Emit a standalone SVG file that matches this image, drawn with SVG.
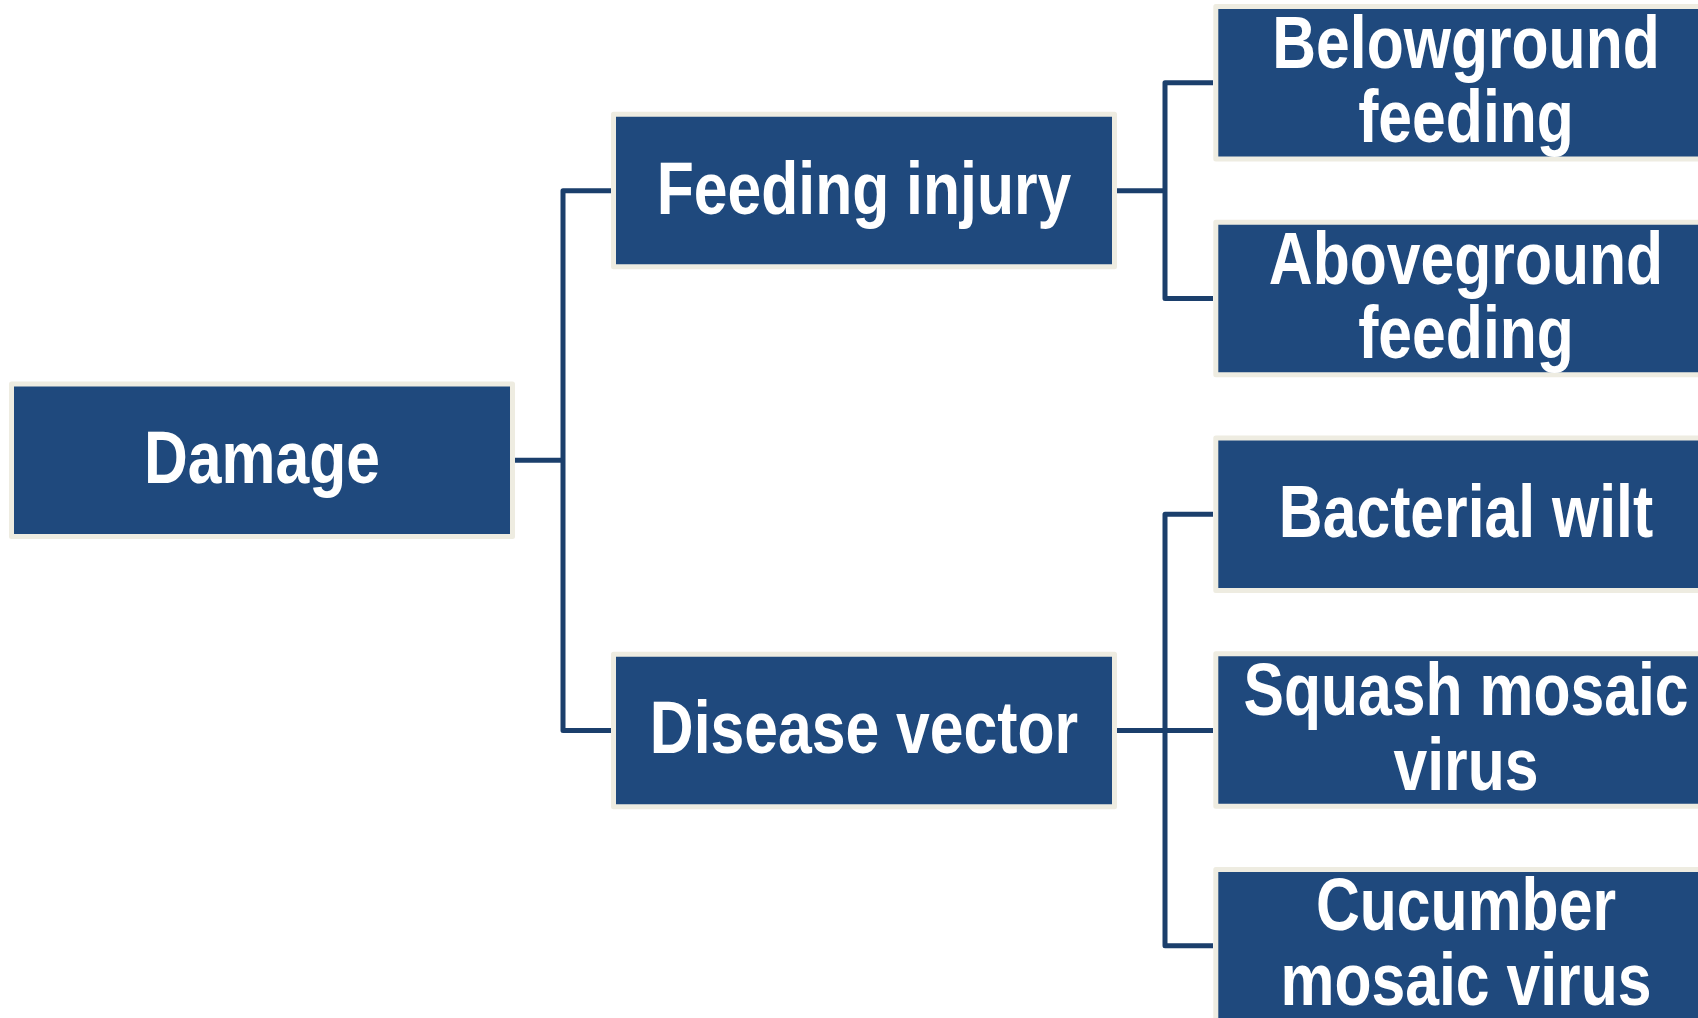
<svg xmlns="http://www.w3.org/2000/svg" width="1698" height="1018" viewBox="0 0 1698 1018">
  <style>
    .box { fill: #1F497D; stroke: #EEECE1; stroke-width: 5; stroke-linejoin: round; }
    .lbl { fill: #FFFFFF; font-family: "Liberation Sans", Arial, sans-serif; font-weight: bold; font-size: 74px; text-anchor: middle; }
    .conn { fill: none; stroke: #1B3F6C; stroke-width: 5; stroke-linejoin: round; stroke-linecap: butt; }
  </style>
  <rect x="0" y="0" width="1698" height="1018" fill="#FFFFFF"/>

  <g id="connectors">
    <path class="conn" d="M515,460.3 H563"/>
    <path class="conn" d="M611,190.8 H563 V730.5 H611"/>
    <path class="conn" d="M1117,190.8 H1165"/>
    <path class="conn" d="M1213,82.8 H1165 V298.5 H1213"/>
    <path class="conn" d="M1117,730.5 H1213"/>
    <path class="conn" d="M1213,514.3 H1165 V945.8 H1213"/>
  </g>

  <g id="node-damage">
    <rect class="box" x="11.5" y="384" width="501" height="152.5"/>
    <text class="lbl" transform="translate(262,483) scale(0.82,1)">Damage</text>
  </g>

  <g id="node-feeding-injury">
    <rect class="box" x="613.5" y="114.2" width="501" height="152.5"/>
    <text class="lbl" transform="translate(864,213.5) scale(0.82,1)">Feeding injury</text>
  </g>

  <g id="node-disease-vector">
    <rect class="box" x="613.5" y="654.2" width="501" height="152.5"/>
    <text class="lbl" transform="translate(864,753.3) scale(0.82,1)">Disease vector</text>
  </g>

  <g id="node-belowground">
    <rect class="box" x="1215.8" y="6.5" width="501" height="152.5"/>
    <text class="lbl" transform="translate(1466,68) scale(0.82,1)">Belowground</text>
    <text class="lbl" transform="translate(1466,142) scale(0.82,1)">feeding</text>
  </g>

  <g id="node-aboveground">
    <rect class="box" x="1215.8" y="222.25" width="501" height="152.5"/>
    <text class="lbl" transform="translate(1466,283.7) scale(0.82,1)">Aboveground</text>
    <text class="lbl" transform="translate(1466,357.5) scale(0.82,1)">feeding</text>
  </g>

  <g id="node-bacterial-wilt">
    <rect class="box" x="1215.8" y="438" width="501" height="152.5"/>
    <text class="lbl" transform="translate(1466,537.3) scale(0.82,1)">Bacterial wilt</text>
  </g>

  <g id="node-squash-mosaic">
    <rect class="box" x="1215.8" y="653.75" width="501" height="152.5"/>
    <text class="lbl" transform="translate(1466,715) scale(0.82,1)">Squash mosaic</text>
    <text class="lbl" transform="translate(1466,790) scale(0.82,1)">virus</text>
  </g>

  <g id="node-cucumber-mosaic">
    <rect class="box" x="1215.8" y="869.5" width="501" height="152.5"/>
    <text class="lbl" transform="translate(1466,929.5) scale(0.82,1)">Cucumber</text>
    <text class="lbl" transform="translate(1466,1005) scale(0.82,1)">mosaic virus</text>
  </g>
</svg>
